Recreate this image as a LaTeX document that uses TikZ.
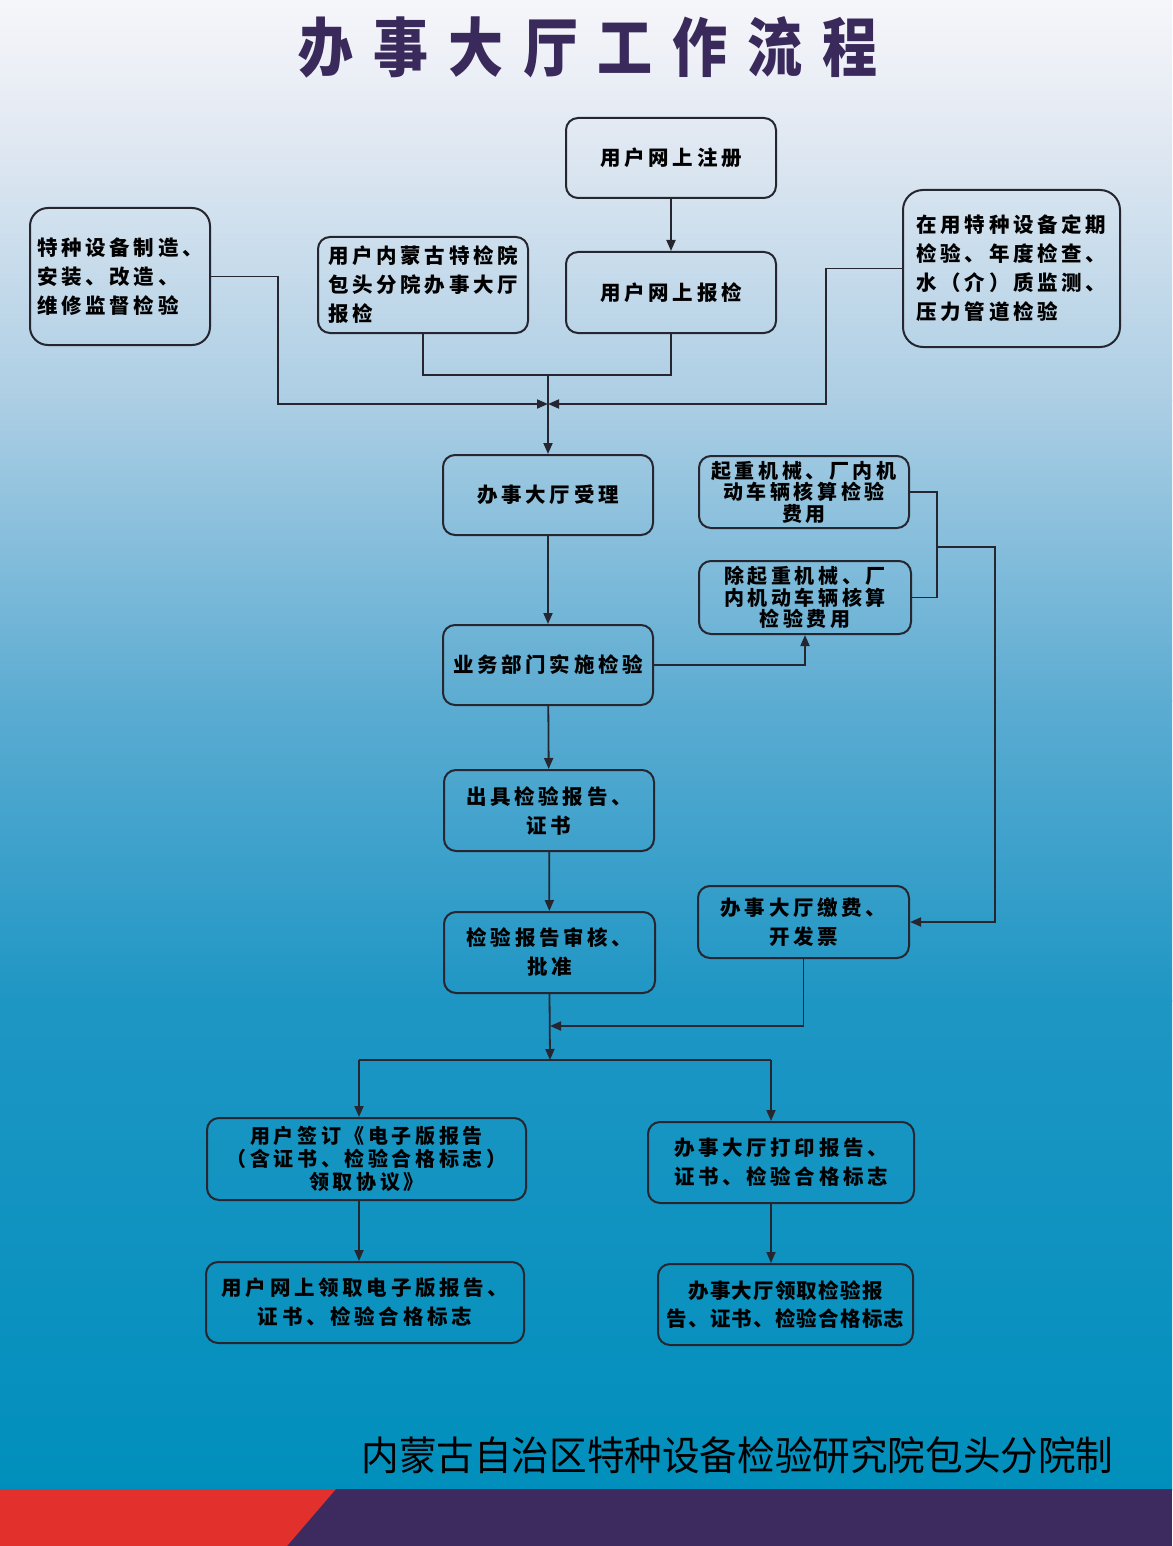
\documentclass[tikz,border=0pt]{standalone}
\usepackage{fontspec}
\usepackage{tikz}
\usetikzlibrary{arrows.meta,positioning}
\newfontfamily\boxfont{Noto Sans CJK SC}[LetterSpace=18]
\newfontfamily\tightfont{Noto Sans CJK SC}[LetterSpace=6]
\newfontfamily\titlefont{Noto Sans CJK SC}[LetterSpace=36]
\newfontfamily\footfont{Noto Sans CJK SC}
\newcommand{\boxtext}{\boxfont\bfseries\fontsize{20.5pt}{29pt}\selectfont}
\newcommand{\feetext}{\boxfont\bfseries\fontsize{20pt}{21.5pt}\selectfont}
\newcommand{\signtext}{\boxfont\bfseries\fontsize{20pt}{23pt}\selectfont}
\newcommand{\pickuptext}{\tightfont\bfseries\fontsize{20.5pt}{28pt}\selectfont}
\definecolor{hallline}{RGB}{38,38,48}
\definecolor{halltitle}{RGB}{58,42,92}
\definecolor{hallred}{RGB}{226,49,44}
\definecolor{hallpurple}{RGB}{61,42,94}
\definecolor{bgtop}{RGB}{246,246,250}
\definecolor{bgpale}{RGB}{228,234,243}
\definecolor{bglight}{RGB}{172,206,228}
\definecolor{bgmid}{RGB}{92,172,210}
\definecolor{bgdeep}{RGB}{30,150,196}
\definecolor{bgbottom}{RGB}{0,143,188}
\tikzset{
  box/.style={draw=hallline, line width=2pt, rounded corners=12pt, align=center,
    inner sep=2pt, text=black, font=\boxtext},
  sourcebox/.style={box, rounded corners=18pt, align=left},
  feebox/.style={box, font=\feetext},
  flow/.style={-{Triangle[length=11pt,width=9pt]}, line width=1.8pt, draw=hallline},
  link/.style={line width=1.8pt, draw=hallline}
}

\begin{document}
\begin{tikzpicture}[x=1pt, y=-1pt]
    \useasboundingbox (0,0) rectangle (1172,1546);
    % background
    \shade[top color=bgtop, bottom color=bgpale] (0,0) rectangle (1172,121);
    \shade[top color=bgpale, bottom color=bglight] (0,120) rectangle (1172,401);
    \shade[top color=bglight, bottom color=bgmid] (0,400) rectangle (1172,701);
    \shade[top color=bgmid, bottom color=bgdeep] (0,700) rectangle (1172,1001);
    \shade[top color=bgdeep, bottom color=bgbottom] (0,1000) rectangle (1172,1490);
    \fill[hallpurple] (0,1489) rectangle (1172,1546);
    \fill[hallred] (0,1489) -- (336,1489) -- (287,1546) -- (0,1546) -- cycle;

    \node[font=\titlefont\bfseries\fontsize{64pt}{64pt}\selectfont, text=halltitle,
      xscale=0.86] (title) at (588,47) {办事大厅工作流程};

    % sources
    \node[box, minimum width=210pt, minimum height=80pt] (reg) at (671,158)
      {用户网上注册};
    \node[box, minimum width=210pt, minimum height=81pt] (online) at (671,292.5)
      {用户网上报检};
    \node[sourcebox, minimum width=180pt, minimum height=137pt] (make) at (120,276.5)
      {特种设备制造、\\安装、改造、\\维修监督检验};
    \node[box, align=left, minimum width=210pt, minimum height=96pt] (hall) at (423,285)
      {用户内蒙古特检院\\包头分院办事大厅\\报检};
    \node[sourcebox, rounded corners=20pt, minimum width=217pt, minimum height=157pt]
      (inuse) at (1011.5,268.5)
      {在用特种设备定期\\检验、年度检查、\\水（介）质监测、\\压力管道检验};

    % main line
    \node[box, minimum width=210pt, minimum height=80pt] (accept) at (548,495)
      {办事大厅受理};
    \node[box, minimum width=210pt, minimum height=80pt] (impl) at (548,665)
      {业务部门实施检验};
    \node[box, minimum width=210pt, minimum height=81pt] (issue) at (549,810.5)
      {出具检验报告、\\证书};
    \node[box, minimum width=211pt, minimum height=81pt] (review) at (549.5,952.5)
      {检验报告审核、\\批准};

    % fees
    \node[feebox, minimum width=210pt, minimum height=72pt] (fee1) at (804,492)
      {起重机械、厂内机\\动车辆核算检验\\费用};
    \node[feebox, minimum width=212pt, minimum height=73pt] (fee2) at (805,597.5)
      {除起重机械、厂\\内机动车辆核算\\检验费用};
    \node[box, minimum width=211pt, minimum height=72pt] (pay) at (803.5,922)
      {办事大厅缴费、\\开发票};

    % delivery
    \node[box, font=\signtext, minimum width=319pt, minimum height=82pt] (sign) at (366.5,1159)
      {用户签订《电子版报告\\（含证书、检验合格标志）\\领取协议》};
    \node[box, minimum width=318pt, minimum height=81pt] (eget) at (365,1302.5)
      {用户网上领取电子版报告、\\证书、检验合格标志};
    \node[box, minimum width=266pt, minimum height=81pt] (print) at (781,1162.5)
      {办事大厅打印报告、\\证书、检验合格标志};
    \node[box, font=\pickuptext, minimum width=255pt, minimum height=81pt] (pickup) at (785.5,1304.5)
      {办事大厅领取检验报\\告、证书、检验合格标志};

    \node[font=\footfont\fontsize{40pt}{40pt}\selectfont, text=black, xscale=0.94]
      (maker) at (737.5,1455) {内蒙古自治区特种设备检验研究院包头分院制};

    % junctions
    \coordinate (topjoin) at (548,375);
    \coordinate (sidejoin) at (548,404);
    \coordinate (feejoin) at (937,547);
    \coordinate (feeturn) at (995,547);
    \coordinate (payjoin) at (550,1026);
    \coordinate (split) at (550,1060);
    \coordinate (splitL) at (359,1060);
    \coordinate (splitR) at (771,1060);

    \draw[flow] (reg) -- (online);
    \draw[link] (hall.south) |- (topjoin) -| (online.south);
    \draw[flow] (make.east) -- (278,276.5) |- (sidejoin);
    \draw[flow] (inuse.west) -- (826,268.5) |- (sidejoin);
    \draw[flow] (topjoin) -- (accept.north);
    \draw[flow] (accept) -- (impl);
    \draw[flow] (impl.east) -| (fee2.south);
    \draw[link] (fee1.east) -| (feejoin) |- (fee2.east);
    \draw[flow] (feejoin) -- (feeturn) |- (pay.east);
    \draw[flow] (impl) -- (issue);
    \draw[flow] (issue) -- (review);
    \draw[flow] (pay.south) |- (payjoin);
    \draw[flow] (review.south) -- (split);
    \draw[link] (splitL) -- (splitR);
    \draw[flow] (splitL) -- (splitL |- sign.north);
    \draw[flow] (splitR) -- (splitR |- print.north);
    \draw[flow] (splitL |- sign.south) -- (splitL |- eget.north);
    \draw[flow] (splitR |- print.south) -- (splitR |- pickup.north);
  \end{tikzpicture}
\end{document}
